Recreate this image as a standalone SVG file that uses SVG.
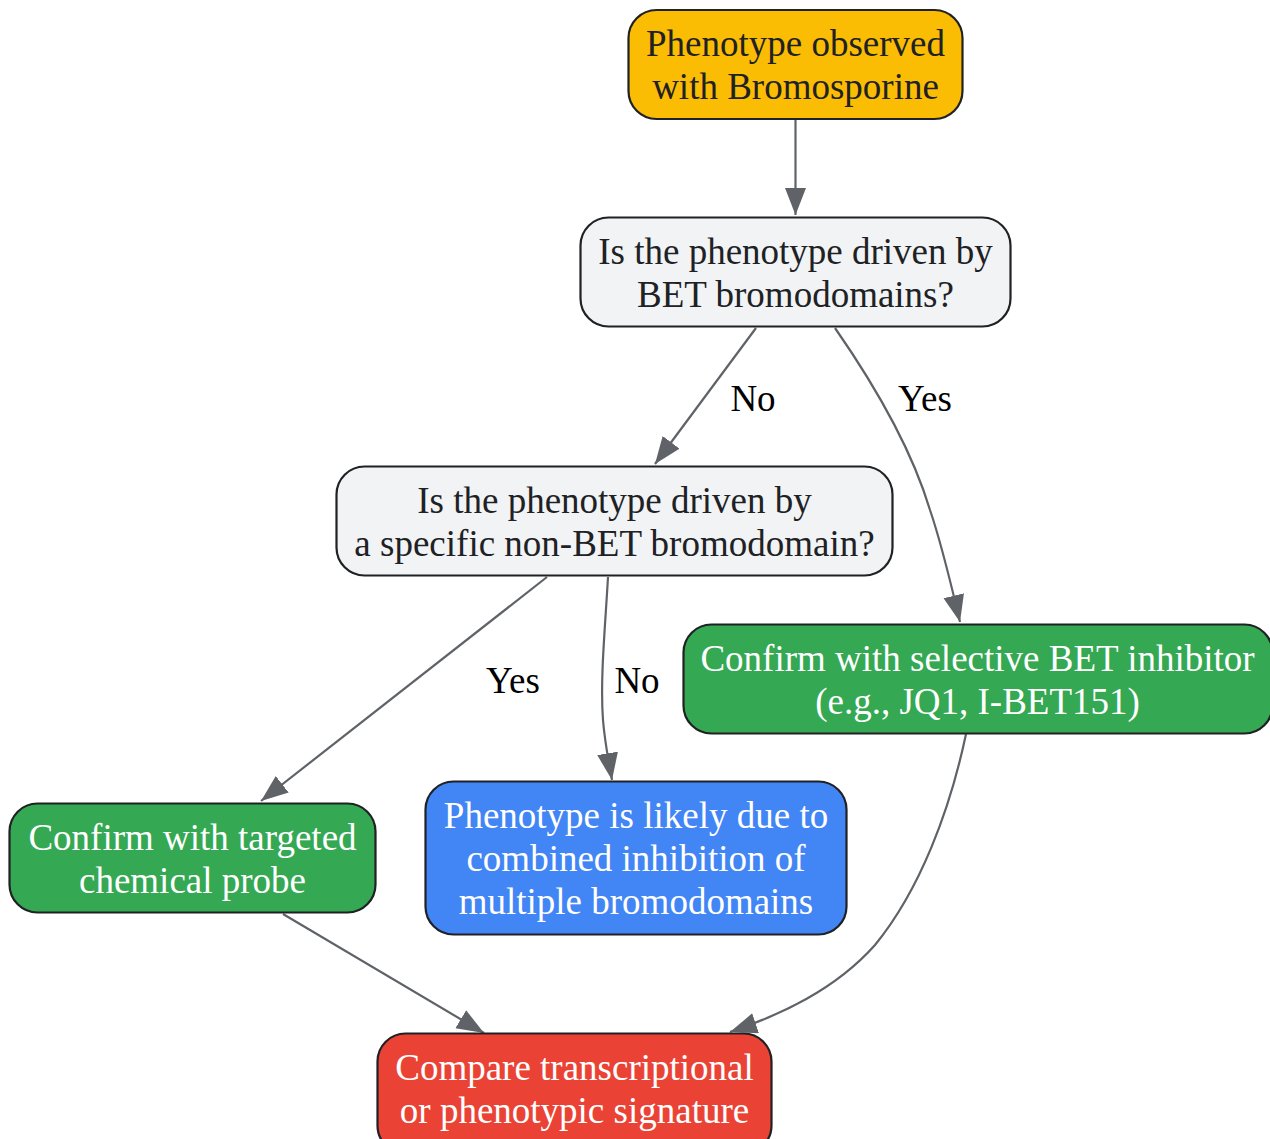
<svg xmlns="http://www.w3.org/2000/svg" width="1270" height="1139" viewBox="0 0 1270 1139">
<style>
.n{stroke:#202124;stroke-width:2.2}
.t{font-family:"Liberation Serif","Times New Roman",serif;font-size:37px;text-anchor:middle}
.d{fill:#202124}
.w{fill:#ffffff}
.e{fill:none;stroke:#5f6368;stroke-width:2.2;marker-end:url(#a)}
.l{font-family:"Liberation Serif","Times New Roman",serif;font-size:37px;text-anchor:middle;fill:#000000}
</style>
<defs>
<marker id="a" markerUnits="userSpaceOnUse" markerWidth="30" markerHeight="24" refX="27" refY="10.5" orient="auto">
<path d="M0,0 L27,10.5 L0,21 z" fill="#5f6368"/>
</marker>
</defs>
<rect width="1270" height="1139" fill="#ffffff"/>
<g id="edges">
<path class="e" d="M795.5,120 L795.5,215"/>
<path class="e" d="M756,328 L655,464"/>
<path class="e" d="M835,328 C885,400 915,460 930,510 C942,545 950,580 960,622"/>
<path class="e" d="M547,577 L261,801"/>
<path class="e" d="M608,577 C605,630 600,680 603,720 C605,745 609,762 612,780"/>
<path class="e" d="M283,914 L484,1033"/>
<path class="e" d="M966,734 C950,810 920,890 875,945 C835,990 780,1015 730,1032"/>
<text class="l" x="753" y="411">No</text>
<text class="l" x="925" y="411">Yes</text>
<text class="l" x="513" y="693">Yes</text>
<text class="l" x="637" y="693">No</text>
</g>
<g id="start">
<rect class="n" x="628.5" y="10" width="334" height="109" rx="28" fill="#fbbc04"/>
<text class="t d" x="795.5" y="56">Phenotype observed</text>
<text class="t d" x="795.5" y="99">with Bromosporine</text>
</g>
<g id="q1">
<rect class="n" x="580.5" y="217.5" width="430" height="109" rx="28" fill="#f1f3f4"/>
<text class="t d" x="795.5" y="264">Is the phenotype driven by</text>
<text class="t d" x="795.5" y="307">BET bromodomains?</text>
</g>
<g id="q2">
<rect class="n" x="336.5" y="466.5" width="556" height="109" rx="28" fill="#f1f3f4"/>
<text class="t d" x="614.5" y="513">Is the phenotype driven by</text>
<text class="t d" x="614.5" y="556">a specific non-BET bromodomain?</text>
</g>
<g id="bet">
<rect class="n" x="683.5" y="624.5" width="589" height="109" rx="28" fill="#34a853"/>
<text class="t w" x="977.5" y="671">Confirm with selective BET inhibitor</text>
<text class="t w" x="977.5" y="714">(e.g., JQ1, I-BET151)</text>
</g>
<g id="probe">
<rect class="n" x="9.5" y="803.5" width="366" height="109" rx="28" fill="#34a853"/>
<text class="t w" x="192.5" y="850">Confirm with targeted</text>
<text class="t w" x="192.5" y="893">chemical probe</text>
</g>
<g id="combined">
<rect class="n" x="425.5" y="781.5" width="421" height="153" rx="28" fill="#4285f4"/>
<text class="t w" x="636" y="828">Phenotype is likely due to</text>
<text class="t w" x="636" y="871">combined inhibition of</text>
<text class="t w" x="636" y="914">multiple bromodomains</text>
</g>
<g id="compare">
<rect class="n" x="377.5" y="1033.5" width="394" height="120" rx="28" fill="#ea4335"/>
<text class="t w" x="574.5" y="1080">Compare transcriptional</text>
<text class="t w" x="574.5" y="1123">or phenotypic signature</text>
</g>
</svg>
